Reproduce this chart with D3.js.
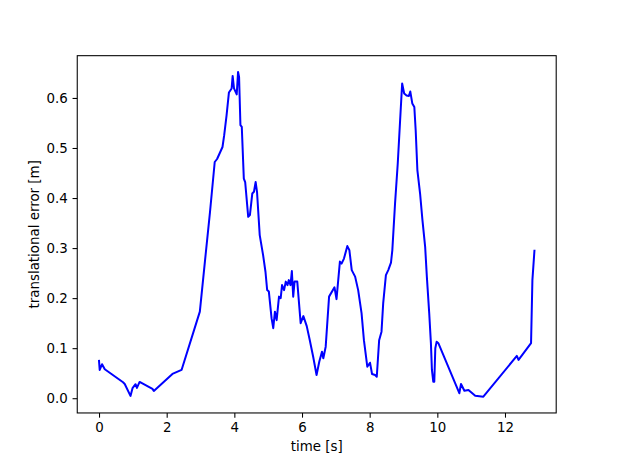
<!DOCTYPE html>
<html>
<head>
<meta charset="utf-8">
<script src="https://cdn.jsdelivr.net/npm/d3@7"></script>
<style>
  html, body { margin: 0; padding: 0; background: #fff; }
  svg { display: block; font-family: "DejaVu Sans", sans-serif; }
</style>
</head>
<body>
<div class="vis-chart"></div>
<script>
// time [s] and translational error [m]
const time = [
  0, 0.02, 0.09, 0.17, 0.71, 0.76, 0.93, 0.99, 1.08, 1.12,
  1.20, 1.58, 1.62, 2.17, 2.44, 2.98, 3.13, 3.28, 3.42, 3.49,
  3.65, 3.70, 3.77, 3.84, 3.92, 3.95, 3.99, 4.07, 4.11, 4.14,
  4.18, 4.22, 4.28, 4.32, 4.41, 4.46, 4.53, 4.58, 4.63, 4.67,
  4.75, 4.85, 4.92, 4.97, 5.02, 5.10, 5.15, 5.20, 5.25, 5.32,
  5.37, 5.41, 5.47, 5.52, 5.57, 5.61, 5.66, 5.70, 5.74, 5.78,
  5.86, 5.92, 5.96, 6.04, 6.14, 6.23, 6.33, 6.43, 6.51, 6.59,
  6.63, 6.70, 6.80, 6.96, 7.02, 7.12, 7.17, 7.24, 7.34, 7.40,
  7.47, 7.57, 7.66, 7.76, 7.83, 7.93, 8.01, 8.07, 8.16, 8.21,
  8.28, 8.35, 8.40, 8.48, 8.55, 8.63, 8.67, 8.75, 8.83, 8.90,
  8.96, 9.02, 9.09, 9.16, 9.20, 9.26, 9.32, 9.36, 9.41, 9.49,
  9.56, 9.64, 9.69, 9.76, 9.81, 9.84, 9.88, 9.91, 9.94, 9.98,
  10.03, 10.65, 10.70, 10.80, 10.92, 11.12, 11.36, 12.35, 12.40, 12.77,
  12.81, 12.87
];
const error = [
  0.0745, 0.0565, 0.068, 0.058, 0.032, 0.0285, 0.0046, 0.02, 0.028, 0.0205,
  0.0325, 0.0186, 0.0146, 0.0485, 0.0565, 0.173, 0.273, 0.372, 0.472, 0.478,
  0.502, 0.5255, 0.565, 0.611, 0.619, 0.644, 0.619, 0.607, 0.652, 0.642,
  0.5455, 0.542, 0.439, 0.432, 0.3625, 0.366, 0.409, 0.4125, 0.432, 0.4125,
  0.326, 0.286, 0.2527, 0.216, 0.213, 0.16, 0.14, 0.173, 0.156, 0.203,
  0.2, 0.226, 0.216, 0.233, 0.226, 0.236, 0.226, 0.254, 0.203, 0.233,
  0.233, 0.183, 0.15, 0.164, 0.144, 0.116, 0.083, 0.0465, 0.073, 0.093,
  0.08, 0.103, 0.203, 0.2215, 0.198, 0.273, 0.269, 0.279, 0.304, 0.296,
  0.256, 0.243, 0.216, 0.17, 0.116, 0.063, 0.071, 0.0485, 0.0465, 0.043,
  0.116, 0.133, 0.19, 0.246, 0.256, 0.271, 0.296, 0.389, 0.469, 0.5555,
  0.629, 0.609, 0.605, 0.604, 0.613, 0.589, 0.582, 0.5355, 0.456, 0.409,
  0.356, 0.3026, 0.243, 0.17, 0.11, 0.0565, 0.033, 0.033, 0.10, 0.113,
  0.11, 0.01, 0.0285, 0.015, 0.0166, 0.005, 0.003, 0.0845, 0.0765, 0.11,
  0.236, 0.2946
];
const xTicks = [0, 2, 4, 6, 8, 10, 12];
const yTicks = [0.0, 0.1, 0.2, 0.3, 0.4, 0.5, 0.6];

const W = 618, H = 464;
const margin = {left: W * 0.125, right: W * 0.1, top: H * 0.12, bottom: H * 0.11};
const fontSize = 13.4;
const tickLen = 4.7;

const data = time.map((t, i) => ({t: t, v: error[i]}));

// matplotlib style 5% margins
function pad(ext) {
  const r = ext[1] - ext[0];
  return [ext[0] - 0.05 * r, ext[1] + 0.05 * r];
}

const x = d3.scaleLinear()
  .domain(pad(d3.extent(time)))
  .range([margin.left, W - margin.right]);
const y = d3.scaleLinear()
  .domain(pad(d3.extent(error)))
  .range([H - margin.bottom, margin.top]);

const svg = d3.select('.vis-chart')
  .append('svg')
  .attr('width', W)
  .attr('height', H)
  .style('font-size', fontSize + 'px');

// line
svg.append('path')
  .datum(data)
  .attr('fill', 'none')
  .attr('stroke', '#0000ff')
  .attr('stroke-width', 2)
  .attr('stroke-linejoin', 'round')
  .attr('stroke-linecap', 'square')
  .attr('d', d3.line().x(d => x(d.t)).y(d => y(d.v)));

// axes
const xAxis = d3.axisBottom(x)
  .tickValues(xTicks)
  .tickFormat(d3.format('d'))
  .tickSizeInner(tickLen)
  .tickSizeOuter(0)
  .tickPadding(4.7);
const yAxis = d3.axisLeft(y)
  .tickValues(yTicks)
  .tickFormat(d3.format('.1f'))
  .tickSizeInner(tickLen)
  .tickSizeOuter(0)
  .tickPadding(4.7);

const gx = svg.append('g')
  .attr('transform', `translate(0,${H - margin.bottom})`)
  .call(xAxis);
const gy = svg.append('g')
  .attr('transform', `translate(${margin.left},0)`)
  .call(yAxis);

[gx, gy].forEach(g => {
  g.select('.domain').remove();
  g.selectAll('.tick line').attr('stroke', '#000').attr('stroke-width', 1.07);
  g.selectAll('.tick text')
    .attr('fill', '#000')
    .style('font-family', '"DejaVu Sans", sans-serif')
    .style('font-size', fontSize + 'px');
});

// frame
svg.append('rect')
  .attr('x', margin.left)
  .attr('y', margin.top)
  .attr('width', W - margin.left - margin.right)
  .attr('height', H - margin.top - margin.bottom)
  .attr('fill', 'none')
  .attr('stroke', '#000')
  .attr('stroke-width', 1.07);

// labels
svg.append('text')
  .attr('x', (margin.left + W - margin.right) / 2)
  .attr('y', 451)
  .attr('text-anchor', 'middle')
  .text('time [s]');

svg.append('text')
  .attr('transform', `translate(39,${(margin.top + H - margin.bottom) / 2}) rotate(-90)`)
  .attr('text-anchor', 'middle')
  .text('translational error [m]');
</script>
</body>
</html>
